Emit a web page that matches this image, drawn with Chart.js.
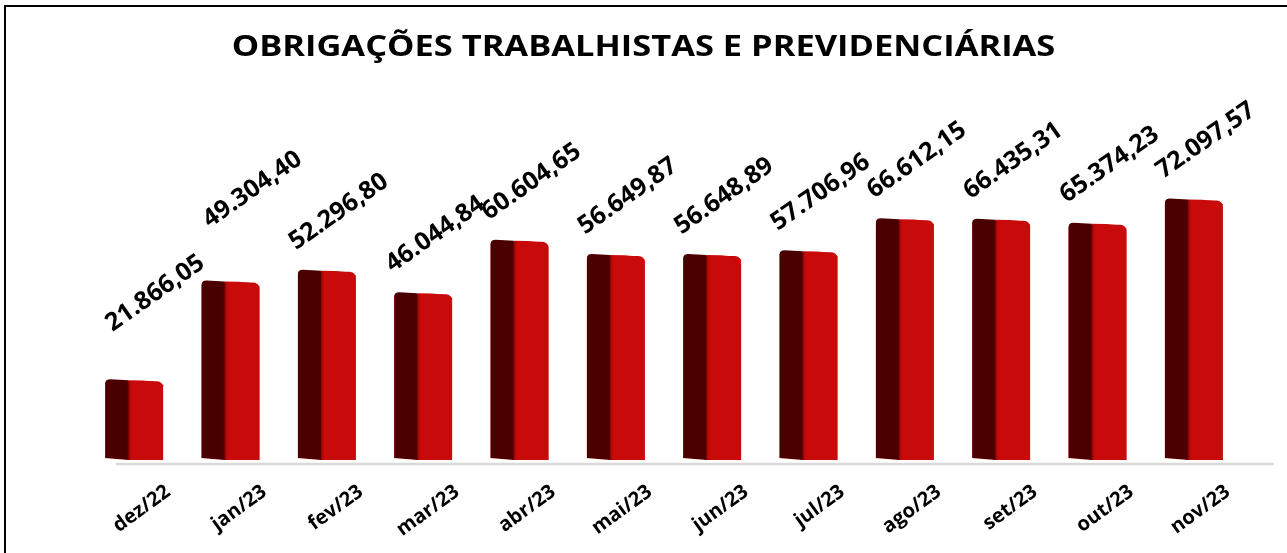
<!DOCTYPE html>
<html>
<head>
<meta charset="utf-8">
<script src="https://cdn.jsdelivr.net/npm/chart.js@4.4.1/dist/chart.umd.min.js"></script>
<style>
  html, body { margin: 0; padding: 0; background: #fff; overflow: hidden; }
  #wrap { position: relative; width: 1287px; height: 553px; }
  #frame {
    position: absolute; left: 4px; top: 5px; width: 2000px; height: 2000px;
    border-left: 2px solid #000; border-top: 2px solid #000; pointer-events: none;
  }
</style>
</head>
<body>
<div id="wrap">
  <canvas id="chart"></canvas>
  <div id="frame"></div>
</div>
<script>
const titulo = 'OBRIGAÇÕES TRABALHISTAS E PREVIDENCIÁRIAS';
const meses = ['dez/22', 'jan/23', 'fev/23', 'mar/23', 'abr/23', 'mai/23', 'jun/23', 'jul/23', 'ago/23', 'set/23', 'out/23', 'nov/23'];
const valores = [21866.05, 49304.40, 52296.80, 46044.84, 60604.65, 56649.87, 56648.89, 57706.96, 66612.15, 66435.31, 65374.23, 72097.57];

const FONT = '"Open Sans", "DejaVu Sans", sans-serif';

// 21866.05 -> "21.866,05"
function formatBR(v) {
  const parts = v.toFixed(2).split('.');
  const inteiro = parts[0].replace(/\B(?=(\d{3})+(?!\d))/g, '.');
  return inteiro + ',' + parts[1];
}

// wide bold title (the original is stretched sideways)
const wideTitle = {
  id: 'wideTitle',
  afterDraw(chart, args, opts) {
    const { ctx } = chart;
    ctx.save();
    ctx.font = 'bold 28px ' + FONT;
    ctx.fillStyle = '#000';
    ctx.textAlign = 'center';
    ctx.textBaseline = 'alphabetic';
    ctx.translate(chart.width / 2, opts.baseline);
    ctx.scale(opts.stretch, 1);
    ctx.fillText(opts.text, 0, 0);
    ctx.restore();
  }
};

// dark side + rounded top, drawn over each bar the library placed
const cylinderBars = {
  id: 'cylinderBars',
  beforeDatasetsDraw(chart) {
    const { ctx } = chart;
    const xs = chart.scales.x;
    const base = chart.scales.y.getPixelForValue(0);
    ctx.save();
    ctx.strokeStyle = '#d9d9d9';
    ctx.lineWidth = 2.5;
    ctx.beginPath();
    ctx.moveTo(xs.left + 30, base + 4);
    ctx.lineTo(xs.right + 32, base + 4);
    ctx.stroke();
    ctx.restore();
  },
  afterDatasetsDraw(chart) {
    const { ctx } = chart;
    const meta = chart.getDatasetMeta(0);
    ctx.save();
    meta.data.forEach((bar) => {
      const w = bar.width;
      const L = bar.x - w / 2;
      const R = bar.x + w / 2;
      const M = L + w * 0.4;
      const top = bar.y;
      const base = bar.base;
      // red front
      ctx.fillStyle = '#c90a0a';
      ctx.beginPath();
      ctx.moveTo(M, top - 1);
      ctx.quadraticCurveTo(R - 3, top - 1, R, top + 4);
      ctx.lineTo(R, base);
      ctx.lineTo(M, base);
      ctx.closePath();
      ctx.fill();
      // dark side
      ctx.fillStyle = '#4a0000';
      ctx.beginPath();
      ctx.moveTo(L, top + 2);
      ctx.quadraticCurveTo(L, top - 2, L + 5, top - 2);
      ctx.lineTo(M, top - 1);
      ctx.lineTo(M, base);
      ctx.lineTo(L, base - 2);
      ctx.closePath();
      ctx.fill();
      // cover the library's square corner under the slanted foot
      ctx.fillStyle = '#fff';
      ctx.beginPath();
      ctx.moveTo(L - 1, base - 2);
      ctx.lineTo(M, base);
      ctx.lineTo(L - 1, base + 1);
      ctx.closePath();
      ctx.fill();
      // soft edge between the two faces
      const g = ctx.createLinearGradient(M - 3, 0, M + 4, 0);
      g.addColorStop(0, 'rgba(74,0,0,0)');
      g.addColorStop(0.5, 'rgba(110,0,0,0.6)');
      g.addColorStop(1, 'rgba(201,10,10,0)');
      ctx.fillStyle = g;
      ctx.fillRect(M - 3, top, 7, base - top);
    });
    ctx.restore();
  }
};

// rotated value labels above the bars
const valueLabels = {
  id: 'valueLabels',
  afterDatasetsDraw(chart, args, opts) {
    const { ctx } = chart;
    const meta = chart.getDatasetMeta(0);
    ctx.save();
    ctx.font = 'bold 25px ' + FONT;
    ctx.fillStyle = '#000';
    ctx.textAlign = 'center';
    ctx.textBaseline = 'middle';
    meta.data.forEach((bar, i) => {
      const n = opts.nudges[i] || [0, 0];
      ctx.save();
      ctx.translate(bar.x + 12 + n[0], bar.y - 60 + n[1]);
      ctx.rotate(-35 * Math.PI / 180);
      ctx.fillText(formatBR(valores[i]), 0, 0);
      ctx.restore();
    });
    ctx.restore();
  }
};

new Chart(document.getElementById('chart'), {
  type: 'bar',
  data: {
    labels: meses,
    datasets: [{
      data: valores,
      backgroundColor: '#c90a0a',
      borderWidth: 0,
      borderSkipped: false,
      borderRadius: { topLeft: 3, topRight: 6, bottomLeft: 0, bottomRight: 0 },
      barPercentage: 0.6,
      categoryPercentage: 1
    }]
  },
  options: {
    responsive: true,
    maintainAspectRatio: false,
    animation: false,
    layout: { padding: { left: 86, right: 45, top: 100, bottom: 0 } },
    plugins: {
      legend: { display: false },
      tooltip: { enabled: false },
      title: { display: false },
      wideTitle: { text: titulo, baseline: 56, stretch: 1.23 },
      valueLabels: { nudges: { 0: [9, -28], 1: [10, -33] } }
    },
    scales: {
      x: {
        grid: { display: false, drawTicks: false },
        border: { display: false },
        ticks: {
          color: '#000',
          font: { family: FONT, size: 20, weight: 'bold' },
          minRotation: 36,
          maxRotation: 36,
          padding: 20,
          labelOffset: 34
        },
        afterFit: (scale) => { scale.height = 93; }
      },
      y: {
        display: false,
        min: 0,
        max: 100000
      }
    }
  },
  plugins: [cylinderBars, valueLabels, wideTitle]
});
</script>
</body>
</html>
